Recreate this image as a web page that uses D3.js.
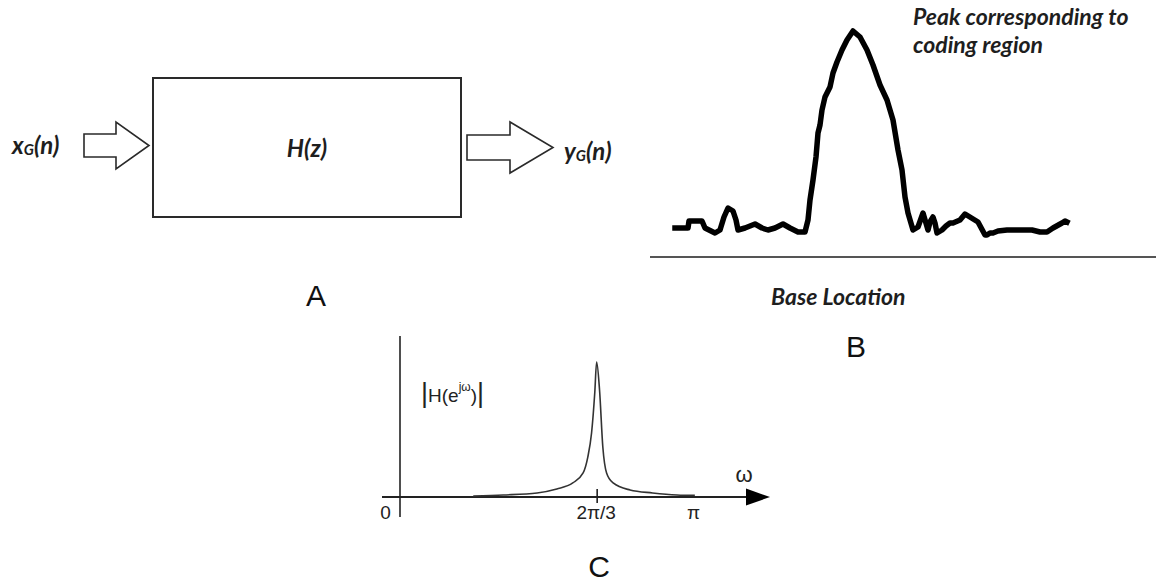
<!DOCTYPE html>
<html>
<head>
<meta charset="utf-8">
<script src="https://cdn.jsdelivr.net/npm/d3@7"></script>
<style>
  html, body { margin: 0; padding: 0; background: #fff; }
  svg { display: block; }
</style>
</head>
<body>
<svg id="chart" width="1156" height="583"></svg>
<script>
// ---------- DATA ----------
// Panel B: position along the sequence (base location, arbitrary units) and signal strength
const bLocation = [0, 13, 14, 27, 30, 40, 45, 49, 53, 58, 61, 63, 70, 80, 87, 93, 100, 108, 115, 123, 130, 133, 135, 138, 141, 143, 145, 147, 150, 155, 158, 162, 167, 172, 178, 185, 192, 198, 205, 212, 218, 223, 227, 230, 233, 238, 243, 248, 253, 255, 258, 260, 262, 267, 271, 275, 278, 285, 290, 303, 310, 312, 315, 318, 323, 332, 345, 357, 365, 372, 378, 387, 390, 392];
const bSignal   = [29, 29, 36, 36, 29, 24, 27, 40, 49, 46, 37, 27, 29, 33, 29, 27, 29, 33, 29, 25, 25, 37, 57, 77, 100, 124, 132, 147, 160, 170, 184, 195, 207, 217, 226, 220, 207, 192, 172, 157, 137, 107, 87, 60, 44, 27, 30, 44, 27, 35, 40, 34, 24, 27, 31, 34, 34, 37, 43, 35, 22, 22, 24, 24, 26, 27, 27, 27, 25, 25, 29, 34, 36, 35];

// Panel C: angular frequency (rad) and magnitude response |H(e^jw)|
const cOmega = [0.78, 1.10, 1.46, 1.67, 1.84, 1.95, 2.00, 2.04, 2.074, 2.094, 2.125, 2.16, 2.20, 2.27, 2.45, 2.69, 2.95, 3.14];
const cMag   = [0.007, 0.015, 0.03, 0.059, 0.104, 0.178, 0.296, 0.474, 0.77, 1.0, 0.793, 0.37, 0.178, 0.104, 0.052, 0.03, 0.015, 0.012];
const cTickValues = [0, 2 * Math.PI / 3, Math.PI];
const cTickLabels = ["0", "2\u03C0/3", "\u03C0"];

// Panel labels
const panelLabels = ["A", "B", "C"];

// ---------- DRAW ----------
const svg = d3.select("#chart");
const ink = "#1e1e1e";
const boldItalic = "Lato, 'Open Sans', sans-serif";
const plain = "'Liberation Sans', Arial, sans-serif";

// ===== Panel A: block diagram =====
const gA = svg.append("g");
gA.append("rect")
  .attr("x", 153).attr("y", 78).attr("width", 308).attr("height", 139)
  .attr("fill", "none").attr("stroke", "#2a2a2a").attr("stroke-width", 2);

function blockArrow(x0, xHead, xTip, cy, shaftHalf, headHalf) {
  return [
    [x0, cy - shaftHalf], [xHead, cy - shaftHalf], [xHead, cy - headHalf],
    [xTip, cy], [xHead, cy + headHalf], [xHead, cy + shaftHalf], [x0, cy + shaftHalf]
  ];
}
const arrowLine = d3.line();
gA.append("path")
  .attr("d", arrowLine(blockArrow(84, 116, 149, 145.5, 11.5, 23.5)) + "Z")
  .attr("fill", "#fff").attr("stroke", "#2a2a2a").attr("stroke-width", 1.6);
gA.append("path")
  .attr("d", arrowLine(blockArrow(467, 510, 553, 147.5, 12.5, 25.5)) + "Z")
  .attr("fill", "#fff").attr("stroke", "#2a2a2a").attr("stroke-width", 1.6);

function signalLabel(x, y, base) {
  const t = gA.append("text").attr("x", x).attr("y", y)
    .attr("font-family", boldItalic).attr("font-weight", 700).attr("font-style", "italic")
    .attr("font-size", 24).attr("fill", ink);
  t.append("tspan").text(base);
  t.append("tspan").attr("font-size", 15).attr("dy", 1).text("G");
  t.append("tspan").attr("dy", -1).text("(n)");
}
signalLabel(12, 154, "x");
signalLabel(564, 160, "y");

gA.append("text").attr("x", 307).attr("y", 157).attr("text-anchor", "middle")
  .attr("font-family", boldItalic).attr("font-weight", 700).attr("font-style", "italic")
  .attr("font-size", 24).attr("fill", ink).text("H(z)");

// ===== Panel B: signal vs base location =====
const gB = svg.append("g");
const xB = d3.scaleLinear().domain([0, 392]).range([675, 1067]);
const yB = d3.scaleLinear().domain([0, 226]).range([257, 31]);

gB.append("line")
  .attr("x1", 650).attr("x2", 1156).attr("y1", yB(0)).attr("y2", yB(0))
  .attr("stroke", "#555").attr("stroke-width", 2);

const bData = bLocation.map((d, i) => [d, bSignal[i]]);
gB.append("path")
  .datum(bData)
  .attr("d", d3.line().x(d => xB(d[0])).y(d => yB(d[1])))
  .attr("fill", "none").attr("stroke", "#000").attr("stroke-width", 5.5)
  .attr("stroke-linejoin", "round").attr("stroke-linecap", "square");

const peakText = gB.append("text")
  .attr("font-family", boldItalic).attr("font-weight", 700).attr("font-style", "italic")
  .attr("font-size", 23).attr("fill", ink);
peakText.append("tspan").attr("x", 913).attr("y", 25).text("Peak corresponding to");
peakText.append("tspan").attr("x", 913).attr("y", 53).text("coding region");

gB.append("text").attr("x", 771).attr("y", 305)
  .attr("font-family", boldItalic).attr("font-weight", 700).attr("font-style", "italic")
  .attr("font-size", 23).attr("fill", ink).text("Base Location");

// ===== Panel C: magnitude response =====
const gC = svg.append("g");
const xC = d3.scaleLinear().domain([0, Math.PI]).range([400, 695]);
const yC = d3.scaleLinear().domain([0, 1]).range([497, 362]);
const axisCol = "#222";

// y axis
gC.append("line").attr("x1", xC(0)).attr("x2", xC(0)).attr("y1", 336).attr("y2", 517)
  .attr("stroke", axisCol).attr("stroke-width", 1.6);
// x axis with arrow head
gC.append("line").attr("x1", 382).attr("x2", 750).attr("y1", yC(0)).attr("y2", yC(0))
  .attr("stroke", axisCol).attr("stroke-width", 1.8);
gC.append("path")
  .attr("d", d3.line()([[746, yC(0) - 8.5], [770, yC(0)], [746, yC(0) + 8.5]]) + "Z")
  .attr("fill", "#000");

// tick labels via axis
const axisC = d3.axisBottom(xC)
  .tickValues(cTickValues)
  .tickFormat((d, i) => cTickLabels[i])
  .tickSize(0).tickPadding(0);
const gAxis = gC.append("g").attr("transform", `translate(0,${yC(0)})`).call(axisC);
gAxis.select(".domain").remove();
gAxis.selectAll(".tick text")
  .attr("font-family", plain).attr("font-size", 19).attr("fill", "#222")
  .attr("dy", null).attr("y", 22)
  .attr("x", (d, i) => i === 0 ? -15 : (i === 1 ? -1 : -2));
gAxis.selectAll(".tick").filter((d, i) => i === 1)
  .append("line").attr("y1", -8).attr("y2", 6)
  .attr("stroke", axisCol).attr("stroke-width", 1.6);

// omega label
gC.append("text").attr("x", 744).attr("y", 482).attr("text-anchor", "middle")
  .attr("font-family", plain).attr("font-size", 22).attr("fill", "#222").text("\u03C9");

// |H(e^jw)| label
const hl = gC.append("text").attr("x", 421).attr("y", 402)
  .attr("font-family", plain).attr("font-size", 19).attr("fill", "#222");
hl.append("tspan").attr("font-size", 27).attr("dy", 0).text("|");
hl.append("tspan").text("H(e");
hl.append("tspan").attr("font-size", 12).attr("dy", -11).text("j\u03C9");
hl.append("tspan").attr("dy", 11).text(")");
hl.append("tspan").attr("font-size", 27).text("|");

// curve
const cData = cOmega.map((d, i) => [d, cMag[i]]);
gC.append("path")
  .datum(cData)
  .attr("d", d3.line().x(d => xC(d[0])).y(d => yC(d[1])).curve(d3.curveMonotoneX))
  .attr("fill", "none").attr("stroke", "#333").attr("stroke-width", 1.6);

// ===== panel letters =====
const letterPos = [[316, 306], [856, 357], [599, 577]];
svg.selectAll("text.panel")
  .data(panelLabels)
  .join("text")
  .attr("class", "panel")
  .attr("x", (d, i) => letterPos[i][0]).attr("y", (d, i) => letterPos[i][1])
  .attr("text-anchor", "middle")
  .attr("font-family", plain).attr("font-size", 30).attr("fill", "#111")
  .text(d => d);
</script>
</body>
</html>
